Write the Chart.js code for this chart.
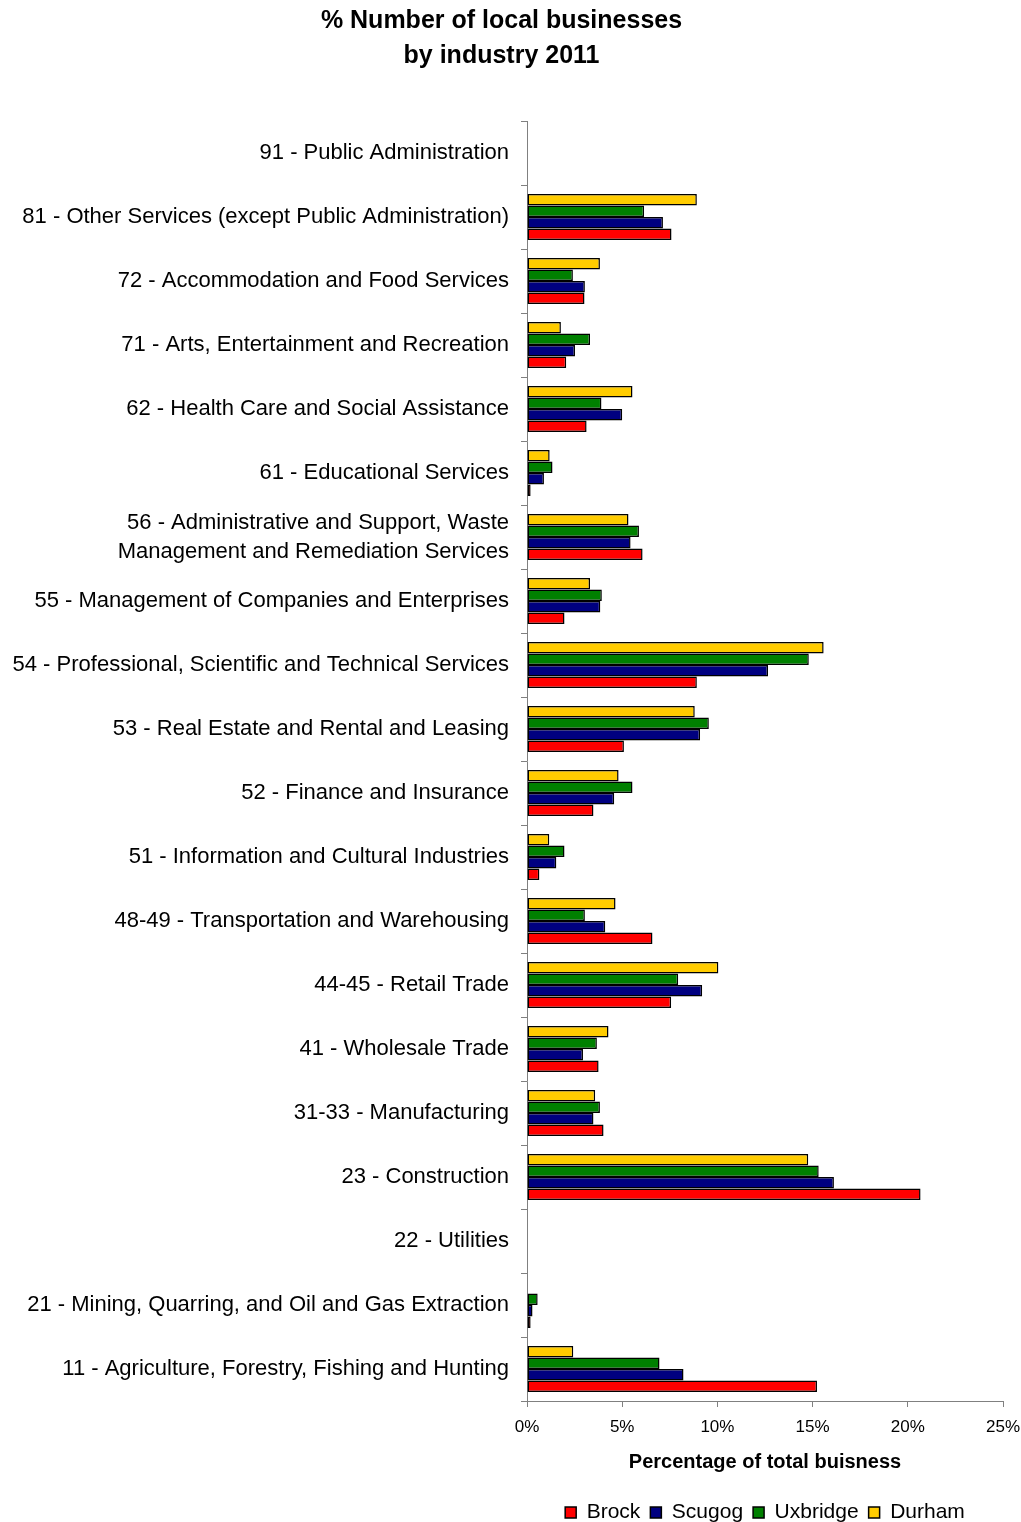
<!DOCTYPE html>
<html>
<head>
<meta charset="utf-8">
<script src="https://cdn.jsdelivr.net/npm/chart.js@4.4.1/dist/chart.umd.min.js"></script>
<style>
  html, body { margin: 0; padding: 0; background: #fff; }
  #wrap { width: 1021px; height: 1522px; overflow: hidden; }
</style>
</head>
<body>
<div id="wrap">
  <canvas id="chart" width="1021" height="1533"></canvas>
</div>
<script>
// categories listed top to bottom as they appear on the chart
const industries = [
  '91 - Public Administration',
  '81 - Other Services (except Public Administration)',
  '72 - Accommodation and Food Services',
  '71 - Arts, Entertainment and Recreation',
  '62 - Health Care and Social Assistance',
  '61 - Educational Services',
  ['56 - Administrative and Support, Waste', 'Management and Remediation Services'],
  '55 - Management of Companies and Enterprises',
  '54 - Professional, Scientific and Technical Services',
  '53 - Real Estate and Rental and Leasing',
  '52 - Finance and Insurance',
  '51 - Information and Cultural Industries',
  '48-49 - Transportation and Warehousing',
  '44-45 - Retail Trade',
  '41 - Wholesale Trade',
  '31-33 - Manufacturing',
  '23 - Construction',
  '22 - Utilities',
  '21 - Mining, Quarring, and Oil and Gas Extraction',
  '11 - Agriculture, Forestry, Fishing and Hunting'
];

// % of total businesses
const brock    = [0, 7.59, 3.02, 2.06, 3.13, 0.19, 6.07, 1.97, 8.92, 5.09, 3.49, 0.65, 6.59, 7.57, 3.76, 4.02, 20.67, 0, 0.19, 15.23];
const scugog   = [0, 7.14, 3.04, 2.52, 5.00, 0.89, 5.44, 3.85, 12.66, 9.09, 4.58, 1.54, 4.11, 9.20, 2.94, 3.49, 16.12, 0, 0.29, 8.22];
const uxbridge = [0, 6.15, 2.41, 3.31, 3.91, 1.34, 5.88, 3.93, 14.80, 9.55, 5.54, 1.97, 3.04, 7.94, 3.67, 3.83, 15.32, 0, 0.56, 6.96];
const durham   = [0, 8.92, 3.83, 1.78, 5.54, 1.19, 5.33, 3.31, 15.58, 8.81, 4.81, 1.17, 4.65, 10.05, 4.28, 3.58, 14.77, 0, 0, 2.43];

const xTicks = [0, 5, 10, 15, 20, 25];

const FONT = "'Liberation Sans', Arial, sans-serif";
const AXIS_GREY = '#808080';

function bar(label, data, color) {
  return {
    label: label,
    data: data,
    backgroundColor: color,
    borderColor: '#000',
    borderWidth: 1.5,
    borderSkipped: false,
    categoryPercentage: 0.72,
    barPercentage: 1.0
  };
}

const ctx = document.getElementById('chart');
// eslint-disable-next-line no-unused-vars
const chart = new Chart(ctx, {
  type: 'bar',
  data: {
    labels: industries,
    // top bar in each group is Durham, so datasets go Durham -> Brock
    datasets: [
      bar('Durham', durham, '#FFCC00'),
      bar('Uxbridge', uxbridge, '#008000'),
      bar('Scugog', scugog, '#000080'),
      bar('Brock', brock, '#FF0000')
    ]
  },
  options: {
    indexAxis: 'y',
    responsive: false,
    animation: false,
    layout: {
      padding: { left: 0, right: 18, top: 0, bottom: 0 }
    },
    scales: {
      y: {
        type: 'category',
        border: { display: true, color: AXIS_GREY, width: 1 },
        grid: {
          offset: true,
          drawOnChartArea: false,
          drawTicks: true,
          tickLength: 6,
          color: AXIS_GREY
        },
        ticks: {
          color: '#000',
          padding: 12,
          autoSkip: false,
          font: { family: FONT, size: 22, lineHeight: 1.32 }
        },
        afterFit(scale) {
          scale.width = 527;
        }
      },
      x: {
        type: 'linear',
        min: 0,
        max: 25,
        afterBuildTicks(scale) {
          scale.ticks = xTicks.map(v => ({ value: v }));
        },
        border: { display: true, color: AXIS_GREY, width: 1 },
        grid: {
          drawOnChartArea: false,
          drawTicks: true,
          tickLength: 6,
          color: AXIS_GREY
        },
        ticks: {
          color: '#000',
          padding: 10,
          maxRotation: 0,
          font: { family: FONT, size: 17 },
          callback: (value) => value + '%'
        },
        title: {
          display: true,
          text: 'Percentage of total buisness',
          color: '#000',
          font: { family: FONT, size: 20, weight: 'bold' },
          padding: { top: 4, bottom: 18 }
        },
        afterFit(scale) {
          scale.height = 91;
          // let the layout padding alone decide the right edge
          scale.paddingLeft = 0;
          scale.paddingRight = 0;
        }
      }
    },
    plugins: {
      title: {
        display: true,
        text: ['% Number of local businesses', 'by industry 2011'],
        color: '#000',
        font: { family: FONT, size: 25, weight: 'bold', lineHeight: 1.4 },
        padding: { top: 4, bottom: 47 }
      },
      legend: {
        position: 'bottom',
        fullSize: false,
        reverse: true,
        labels: {
          color: '#000',
          boxWidth: 11,
          boxHeight: 11,
          padding: 10,
          font: { family: FONT, size: 21 }
        }
      },
      tooltip: { enabled: false }
    }
  }
});
</script>
</body>
</html>
